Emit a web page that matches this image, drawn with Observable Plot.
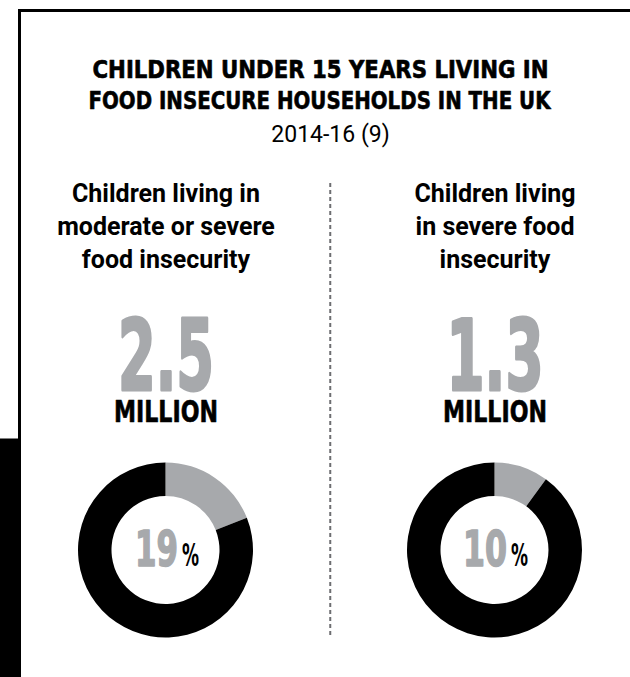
<!DOCTYPE html>
<html><head><meta charset="utf-8">
<script src="https://cdn.jsdelivr.net/npm/d3@7"></script>
<script src="https://cdn.jsdelivr.net/npm/@observablehq/plot@0.6"></script>
<style>
html,body{margin:0;padding:0;background:#fff;}
#chart{width:630px;height:677px;overflow:hidden;}
</style></head><body><div id="chart"></div>
<script>
// ---- data ----
const titleLines = ["CHILDREN UNDER 15 YEARS LIVING IN", "FOOD INSECURE HOUSEHOLDS IN THE UK"];
const subtitle = "2014-16 (9)";
const categories = ["Moderate or severe", "Severe"];
const headerLines = [
  ["Children living in", "moderate or severe", "food insecurity"],
  ["Children living", "in severe food", "insecurity"]
];
const millions = ["2.5", "1.3"];
const unitLabel = "MILLION";
const sharePercent = [19, 10];

// ---- derived tables ----
const panels = categories.map((c, i) => ({
  cat: c, header: headerLines[i].join("\n"), value: millions[i], share: sharePercent[i]
}));
const slices = panels.flatMap(p => [
  {cat: p.cat, part: "food insecure", value: p.share},
  {cat: p.cat, part: "other", value: 100 - p.share}
]);

const GREY = "#a7a9ac";
const HAND = "'DejaVu Sans Condensed', 'DejaVu Sans', sans-serif";
const GROT = "Roboto, 'Noto Sans', sans-serif";

const donutMark = (index, scales, values, dims) => {
  const x = scales.x;
  const bw = typeof x.bandwidth === "function" ? x.bandwidth() : 0;
  const g = d3.create("svg:g");
  const pie = d3.pie().sort(null).value(d => d.value);
  const arc = d3.arc().innerRadius(54).outerRadius(87.5);
  for (const c of categories) {
    const cx = x(c) + bw / 2;
    g.append("g")
      .attr("transform", `translate(${cx},${dims.marginTop + 550})`)
      .selectAll("path")
      .data(pie(slices.filter(s => s.cat === c)))
      .join("path")
      .attr("fill", d => d.data.part === "food insecure" ? GREY : "#000")
      .attr("d", arc);
  }
  return g.node();
};

const chart = Plot.plot({
  width: 630,
  height: 677,
  margin: 0,
  style: {background: "#fff"},
  x: {type: "band", domain: categories, range: [0, 659], padding: 0, axis: null},
  marks: [
    // black side bar and border
    Plot.frame({fill: "#000", stroke: null, insetLeft: -5, insetRight: 610, insetTop: 438, insetBottom: -5}),
    Plot.frame({stroke: "#000", strokeWidth: 3, insetLeft: 19, insetTop: 10, insetRight: -20, insetBottom: -20}),
    // divider
    Plot.ruleX([categories[1]], {x: d => d, dx: -164.75, stroke: "#6d6e71", strokeWidth: 2, strokeDasharray: "4,3", insetTop: 183, insetBottom: 39}),
    // title + subtitle
    Plot.text([titleLines[0]], {text: d => d, frameAnchor: "top", lineAnchor: "bottom", dx: 5, dy: 77, fontSize: 25, fontWeight: "bold", fontFamily: HAND, fill: "#000", stroke: "#000", strokeWidth: 0.6}),
    Plot.text([titleLines[1]], {text: d => d, frameAnchor: "top", lineAnchor: "bottom", dx: 4, dy: 108, fontSize: 25, fontWeight: "bold", fontFamily: HAND, fill: "#000", stroke: "#000", strokeWidth: 0.6}),
    Plot.text([subtitle], {text: d => d, frameAnchor: "top", lineAnchor: "bottom", dx: 15, dy: 141, fontSize: 23, fontFamily: GROT, fill: "#000"}),
    // headers
    Plot.text(panels, {x: "cat", text: "header", frameAnchor: "top", lineAnchor: "top", dy: 178, fontSize: 25, fontWeight: "bold", fontFamily: GROT, lineHeight: 1.32, fill: "#000"}),
    // big numbers
    Plot.text(panels, {x: "cat", text: "value", frameAnchor: "top", lineAnchor: "bottom", dy: 389, fontSize: 98, fontWeight: "bold", fontFamily: HAND, fill: GREY, stroke: GREY, strokeWidth: 3}),
    Plot.text(panels, {x: "cat", text: () => unitLabel, frameAnchor: "top", lineAnchor: "bottom", dy: 421, fontSize: 31, fontWeight: "bold", fontFamily: HAND, fill: "#000", stroke: "#000", strokeWidth: 0.6}),
    // donuts
    donutMark,
    // percentage labels
    Plot.text(panels, {x: "cat", text: d => String(d.share), frameAnchor: "top", lineAnchor: "bottom", textAnchor: "end", dx: 12, dy: 565, fontSize: 50, fontWeight: "bold", fontFamily: HAND, fill: GREY, stroke: GREY, strokeWidth: 1.5}),
    Plot.text(panels, {x: "cat", text: () => "%", frameAnchor: "top", lineAnchor: "bottom", textAnchor: "start", dx: 16, dy: 565, fontSize: 32, fontWeight: "bold", fontFamily: HAND, fill: "#000"})
  ]
});

// condense the display-type texts to the reference widths (style only)
const fitWidths = new Map([
  [titleLines[0], 456], [titleLines[1], 462],
  ["2.5", 96], ["1.3", 97], [unitLabel, 104],
  ["19", 43], ["10", 44], ["%", 17]
]);
chart.querySelectorAll("text").forEach(t => {
  if (t.querySelector("tspan")) return;
  const w = fitWidths.get(t.textContent.trim());
  if (w) {
    t.setAttribute("textLength", w);
    t.setAttribute("lengthAdjust", "spacingAndGlyphs");
  }
});

document.getElementById("chart").appendChild(chart);
</script>
</body></html>
